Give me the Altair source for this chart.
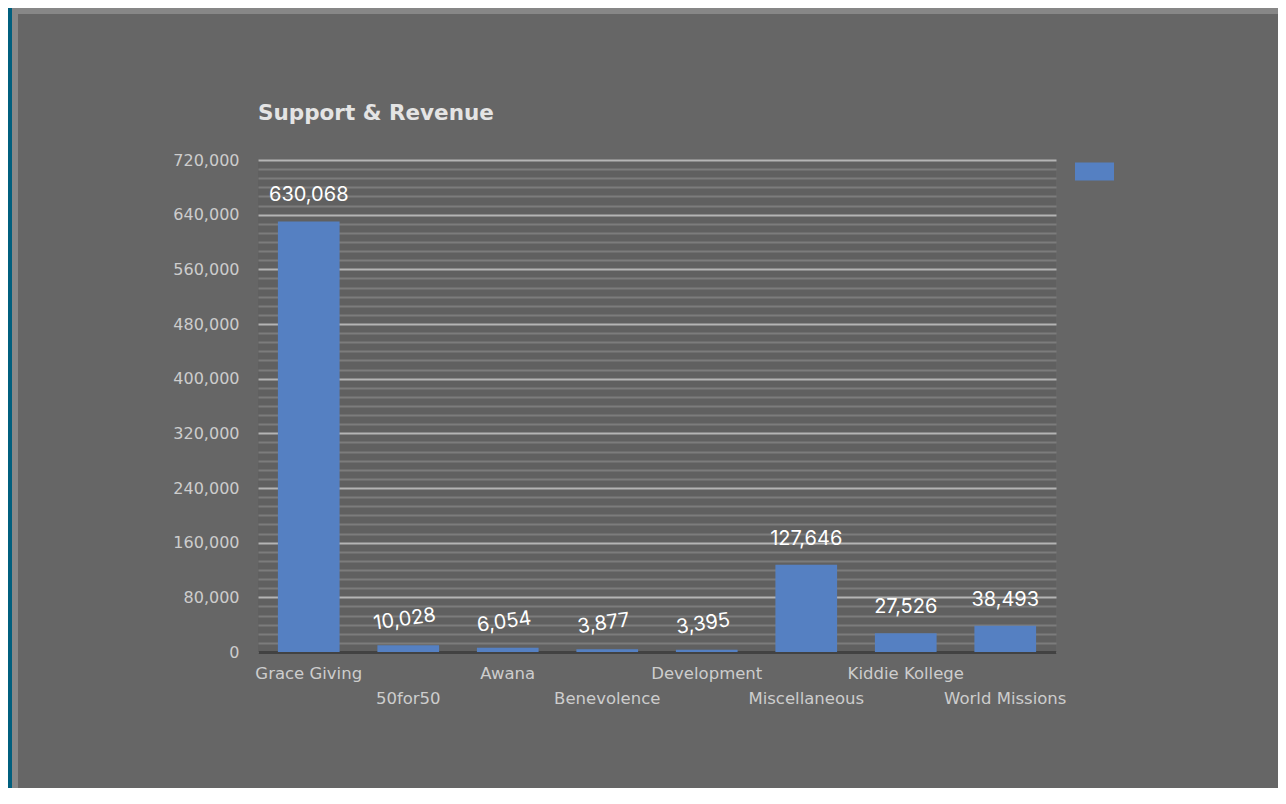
import json
import altair as alt
import pandas as pd

categories = ["Grace Giving", "50for50", "Awana", "Benevolence",
              "Development", "Miscellaneous", "Kiddie Kollege", "World Missions"]
values = [630068, 10028, 6054, 3877, 3395, 127646, 27526, 38493]
series_name = "Support & Revenue"
y_major_ticks = [0, 80000, 160000, 240000, 320000, 400000, 480000, 560000, 640000, 720000]

df = pd.DataFrame({
    "category": categories,
    "value": values,
    "series": [series_name] * len(categories),
})

# minor gridlines (6 divisions per major step)
step = y_major_ticks[1] - y_major_ticks[0]
minor = [a + k * step / 6 for a in y_major_ticks[:-1] for k in range(1, 6)]
all_ticks = sorted(y_major_ticks + minor)

second_row = json.dumps(categories[1::2])

x_axis = alt.Axis(
    title=None, labelAngle=0, labelColor="#cdcdcd", labelFont="DejaVu Sans",
    labelFontSize=16.5, labelPadding=13, labelBaseline="top", labelLineHeight=25,
    ticks=False, domain=True, domainColor="#424242", domainWidth=3,
    labelExpr=f"indexof({second_row}, datum.value) >= 0 ? [' ', datum.label] : datum.label",
)
y_axis = alt.Axis(
    title=None, values=all_ticks, tickCount=200, labelColor="#cdcdcd",
    labelFont="DejaVu Sans", labelFontSize=16, labelPadding=19, ticks=False, domain=False,
    labelOverlap=False, labelBound=False, labelFlush=False,
    grid=True,
    gridColor={"condition": {"test": f"datum.value % {step} === 0", "value": "#b4b4b4"},
               "value": "#7c7c7c"},
    gridWidth=2,
    labelExpr=f"datum.value % {step} === 0 ? format(datum.value, ',') : ''",
)

x_enc = alt.X("category:N", sort=categories,
              scale=alt.Scale(paddingInner=0.38, paddingOuter=0.2), axis=x_axis)
y_enc = alt.Y("value:Q", scale=alt.Scale(domain=[0, 720000], nice=False), axis=y_axis)

deco = pd.DataFrame({"a": [0]})
strip = alt.Chart(deco).mark_rect(color="#005f7e").encode(
    x=alt.value(-250), x2=alt.value(-246), y=alt.value(-152), y2=alt.value(640))
bevel_left = alt.Chart(deco).mark_rect(color="#878787").encode(
    x=alt.value(-246), x2=alt.value(-240), y=alt.value(-152), y2=alt.value(640))
bevel_top = alt.Chart(deco).mark_rect(color="#878787").encode(
    x=alt.value(-246), x2=alt.value(1022), y=alt.value(-152), y2=alt.value(-146))

bars = alt.Chart(df).mark_bar().encode(
    x=x_enc, y=y_enc,
    color=alt.Color("series:N", scale=alt.Scale(range=["#5580c2"]),
                    legend=alt.Legend(title=None, orient="none", legendX=817, legendY=-8,
                                      symbolType="M-1,-0.46L1,-0.46L1,0.46L-1,0.46Z",
                                      symbolSize=1521, symbolStrokeWidth=0,
                                      symbolOpacity=1,
                                      labelExpr="''", padding=0)),
)

labels = alt.Chart(df).mark_text(
    baseline="bottom", dy=-16, font="Inter", fontSize=20, color="white"
).encode(
    x=x_enc,
    y=y_enc,
    text=alt.Text("value:Q", format=","),
    angle=alt.condition("datum.value < 20000", alt.value(352), alt.value(0)),
)

chart = alt.layer(strip, bevel_left, bevel_top, bars, labels).properties(
    width=798, height=492,
    padding={"left": 250, "top": 152, "right": 222, "bottom": 136},
    autosize=alt.AutoSizeParams(type="none"),
    background="#666666",
    title=alt.TitleParams(series_name, anchor="start", frame="group",
                          font="DejaVu Sans", fontWeight="bold", fontSize=21.5,
                          color="#e4e4e4", offset=-116),
).configure_view(stroke=None, fill="#606060")

chart.save("out.html", embed_options={"renderer": "svg", "actions": False})
